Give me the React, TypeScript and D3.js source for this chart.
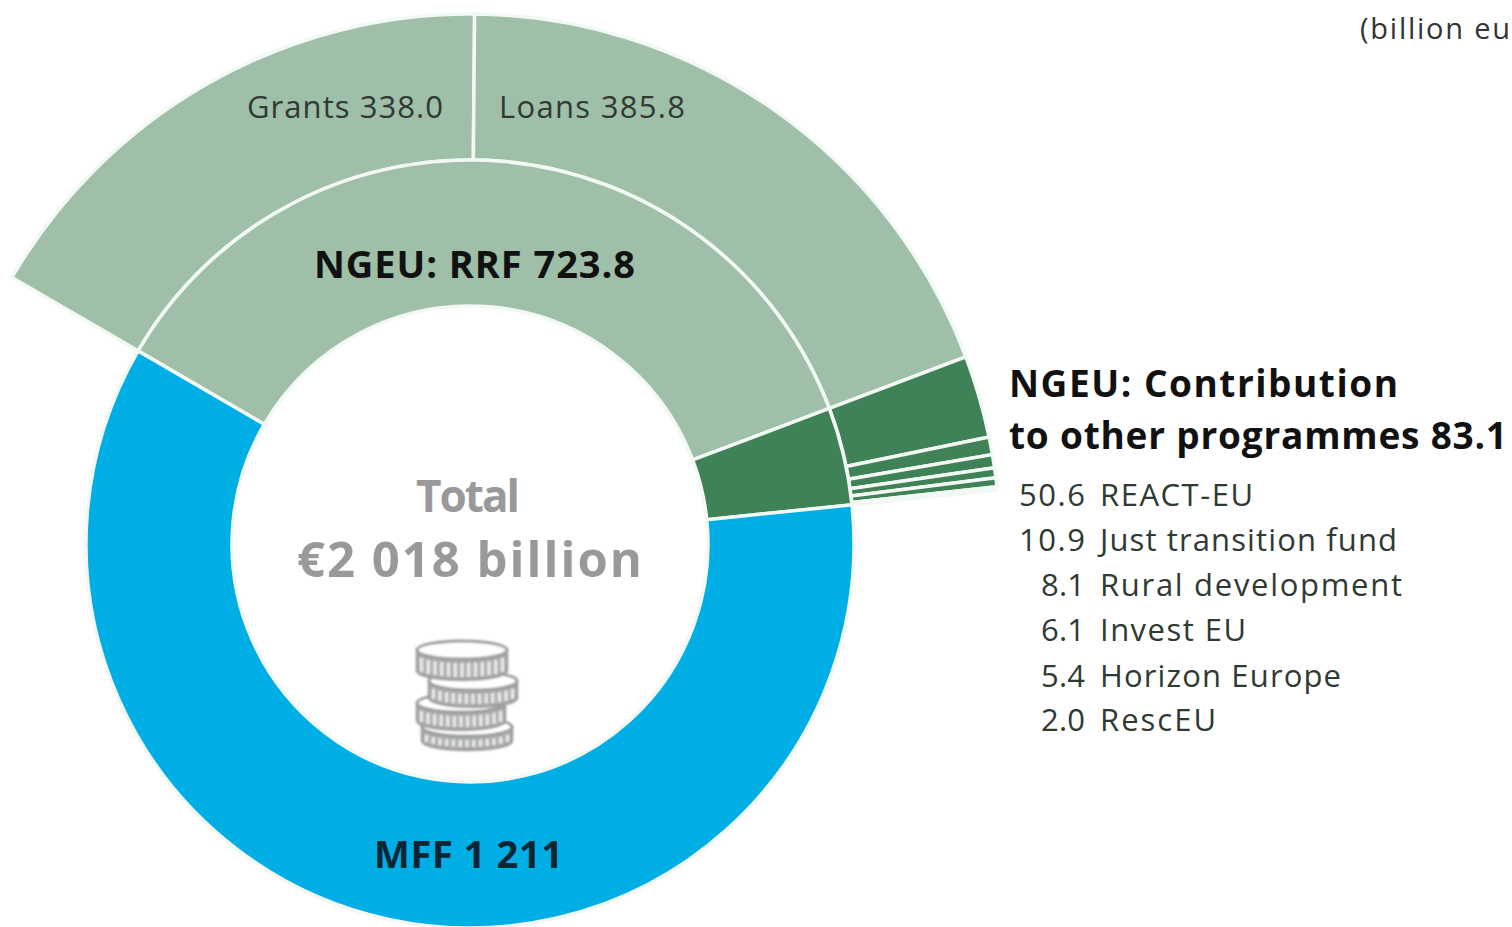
import React from "react";
import * as d3 from "d3";

const innerNames = ["RRF", "Contribution", "MFF"];
const innerValues = [723.8, 83.1, 1211];
const innerColors = ["#9fbfa8", "#3f8258", "#00aee6"];
const outerNames = ["Grants", "Loans", "REACT-EU", "Just transition fund", "Rural development", "InvestEU", "Horizon Europe", "RescEU"];
const outerValues = [338.0, 385.8, 50.6, 10.9, 8.1, 6.1, 5.4, 2.0];
const outerColors = ["#9fbfa8", "#9fbfa8", "#3f8258", "#3f8258", "#3f8258", "#3f8258", "#3f8258", "#3f8258"];
const programmeValues = ["50.6", "10.9", "8.1", "6.1", "5.4", "2.0"];
const programmeNames = ["REACT-EU", "Just transition fund", "Rural development", "Invest EU", "Horizon Europe", "RescEU"];

const cx = 470, cy = 544;
const startDeg = -59.8;
const total = 2018;
const rows = [506, 551, 596, 641, 687, 731];
const nameWidths = [153, 297, 302, 146, 241, 116];
const valueWidths = [66, 66, 44, 44, 44, 44];

function Coin({ x, top, rx, h }: { x: number; top: number; rx: number; h: number }) {
  const ry = 9;
  const ridges = d3.range(-0.9, 0.91, 0.15);
  return (
    <g>
      <path
        d={`M${x - rx},${top} V${top + h} A${rx},${ry} 0 0 0 ${x + rx},${top + h} V${top} Z`}
        fill="#a9acaa" stroke="#9a9d9b" strokeWidth={2.5}
      />
      {ridges.map((t) => {
        const px = x + t * rx;
        const py = top + ry * Math.sqrt(1 - t * t);
        return <line key={t} x1={px} x2={px} y1={py + 4} y2={py + h - 3} stroke="#e8eae9" strokeWidth={3.5} />;
      })}
      <ellipse cx={x} cy={top} rx={rx} ry={ry} fill="#fff" stroke="#9a9d9b" strokeWidth={3} />
    </g>
  );
}

export default function App() {
  const rad = (startDeg * Math.PI) / 180;
  const ang = d3.scaleLinear().domain([0, total]).range([rad, rad + 2 * Math.PI]);
  const arc = d3.arc();
  const sweep = (vals: number[], r0: number, r1: number) => {
    let cum = 0;
    return vals.map((v) => {
      const a0 = ang(cum);
      cum += v;
      return arc({ innerRadius: r0, outerRadius: r1, startAngle: a0, endAngle: ang(cum) });
    });
  };
  const inner = sweep(innerValues, 238, 384);
  const outer = sweep(outerValues, 384, 530);
  const ink = "#2f3a33";
  return (
    <svg width={1512} height={927} style={{ position: "absolute", left: 0, top: 0, background: "#fff" }} fontFamily="'Open Sans', sans-serif">
      <defs>
        <filter id="soft"><feGaussianBlur stdDeviation="0.8" /></filter>
      </defs>
      <g transform={`translate(${cx},${cy})`}>
        {outer.map((d, i) => <path key={outerNames[i]} d={d} fill={outerColors[i]} stroke="#f2f8f3" strokeWidth={3.5} />)}
        {inner.map((d, i) => <path key={innerNames[i]} d={d} fill={innerColors[i]} stroke="#f2f8f3" strokeWidth={3.5} />)}
      </g>
      <text x={1360} y={39} fontSize={29} fill="#333" textLength={150}>(billion eu</text>
      <text x={247} y={118} fontSize={31} fill={ink} textLength={196}>Grants 338.0</text>
      <text x={499} y={118} fontSize={31} fill={ink} textLength={186}>Loans 385.8</text>
      <text x={314} y={278} fontSize={38} fontWeight={700} fill="#111" textLength={321}>NGEU: RRF 723.8</text>
      <text x={1009} y={397} fontSize={37} fontWeight={700} fill="#111" textLength={389}>NGEU: Contribution</text>
      <text x={1009} y={449} fontSize={37} fontWeight={700} fill="#111" textLength={498}>to other programmes 83.1</text>
      {programmeValues.map((v, i) => (
        <text key={v} x={1085 - valueWidths[i]} y={rows[i]} fontSize={31} fill={ink} textLength={valueWidths[i]}>{v}</text>
      ))}
      {programmeNames.map((n, i) => (
        <text key={n} x={1100} y={rows[i]} fontSize={31} fill={ink} textLength={nameWidths[i]}>{n}</text>
      ))}
      <text x={416} y={512} fontSize={44} fontWeight={700} fill="#999" textLength={104}>Total</text>
      <text x={297} y={577} fontSize={49} fontWeight={700} fill="#999" textLength={345}>€2 018 billion</text>
      <text x={374} y={868} fontSize={38} fontWeight={700} fill="#0b2533" textLength={189}>MFF 1 211</text>
      <g filter="url(#soft)">
        <Coin x={467} top={727} rx={45} h={14} />
        <Coin x={461} top={703} rx={44} h={18} />
        <Coin x={473} top={681} rx={44} h={17} />
        <Coin x={462} top={650} rx={45} h={21} />
      </g>
    </svg>
  );
}
